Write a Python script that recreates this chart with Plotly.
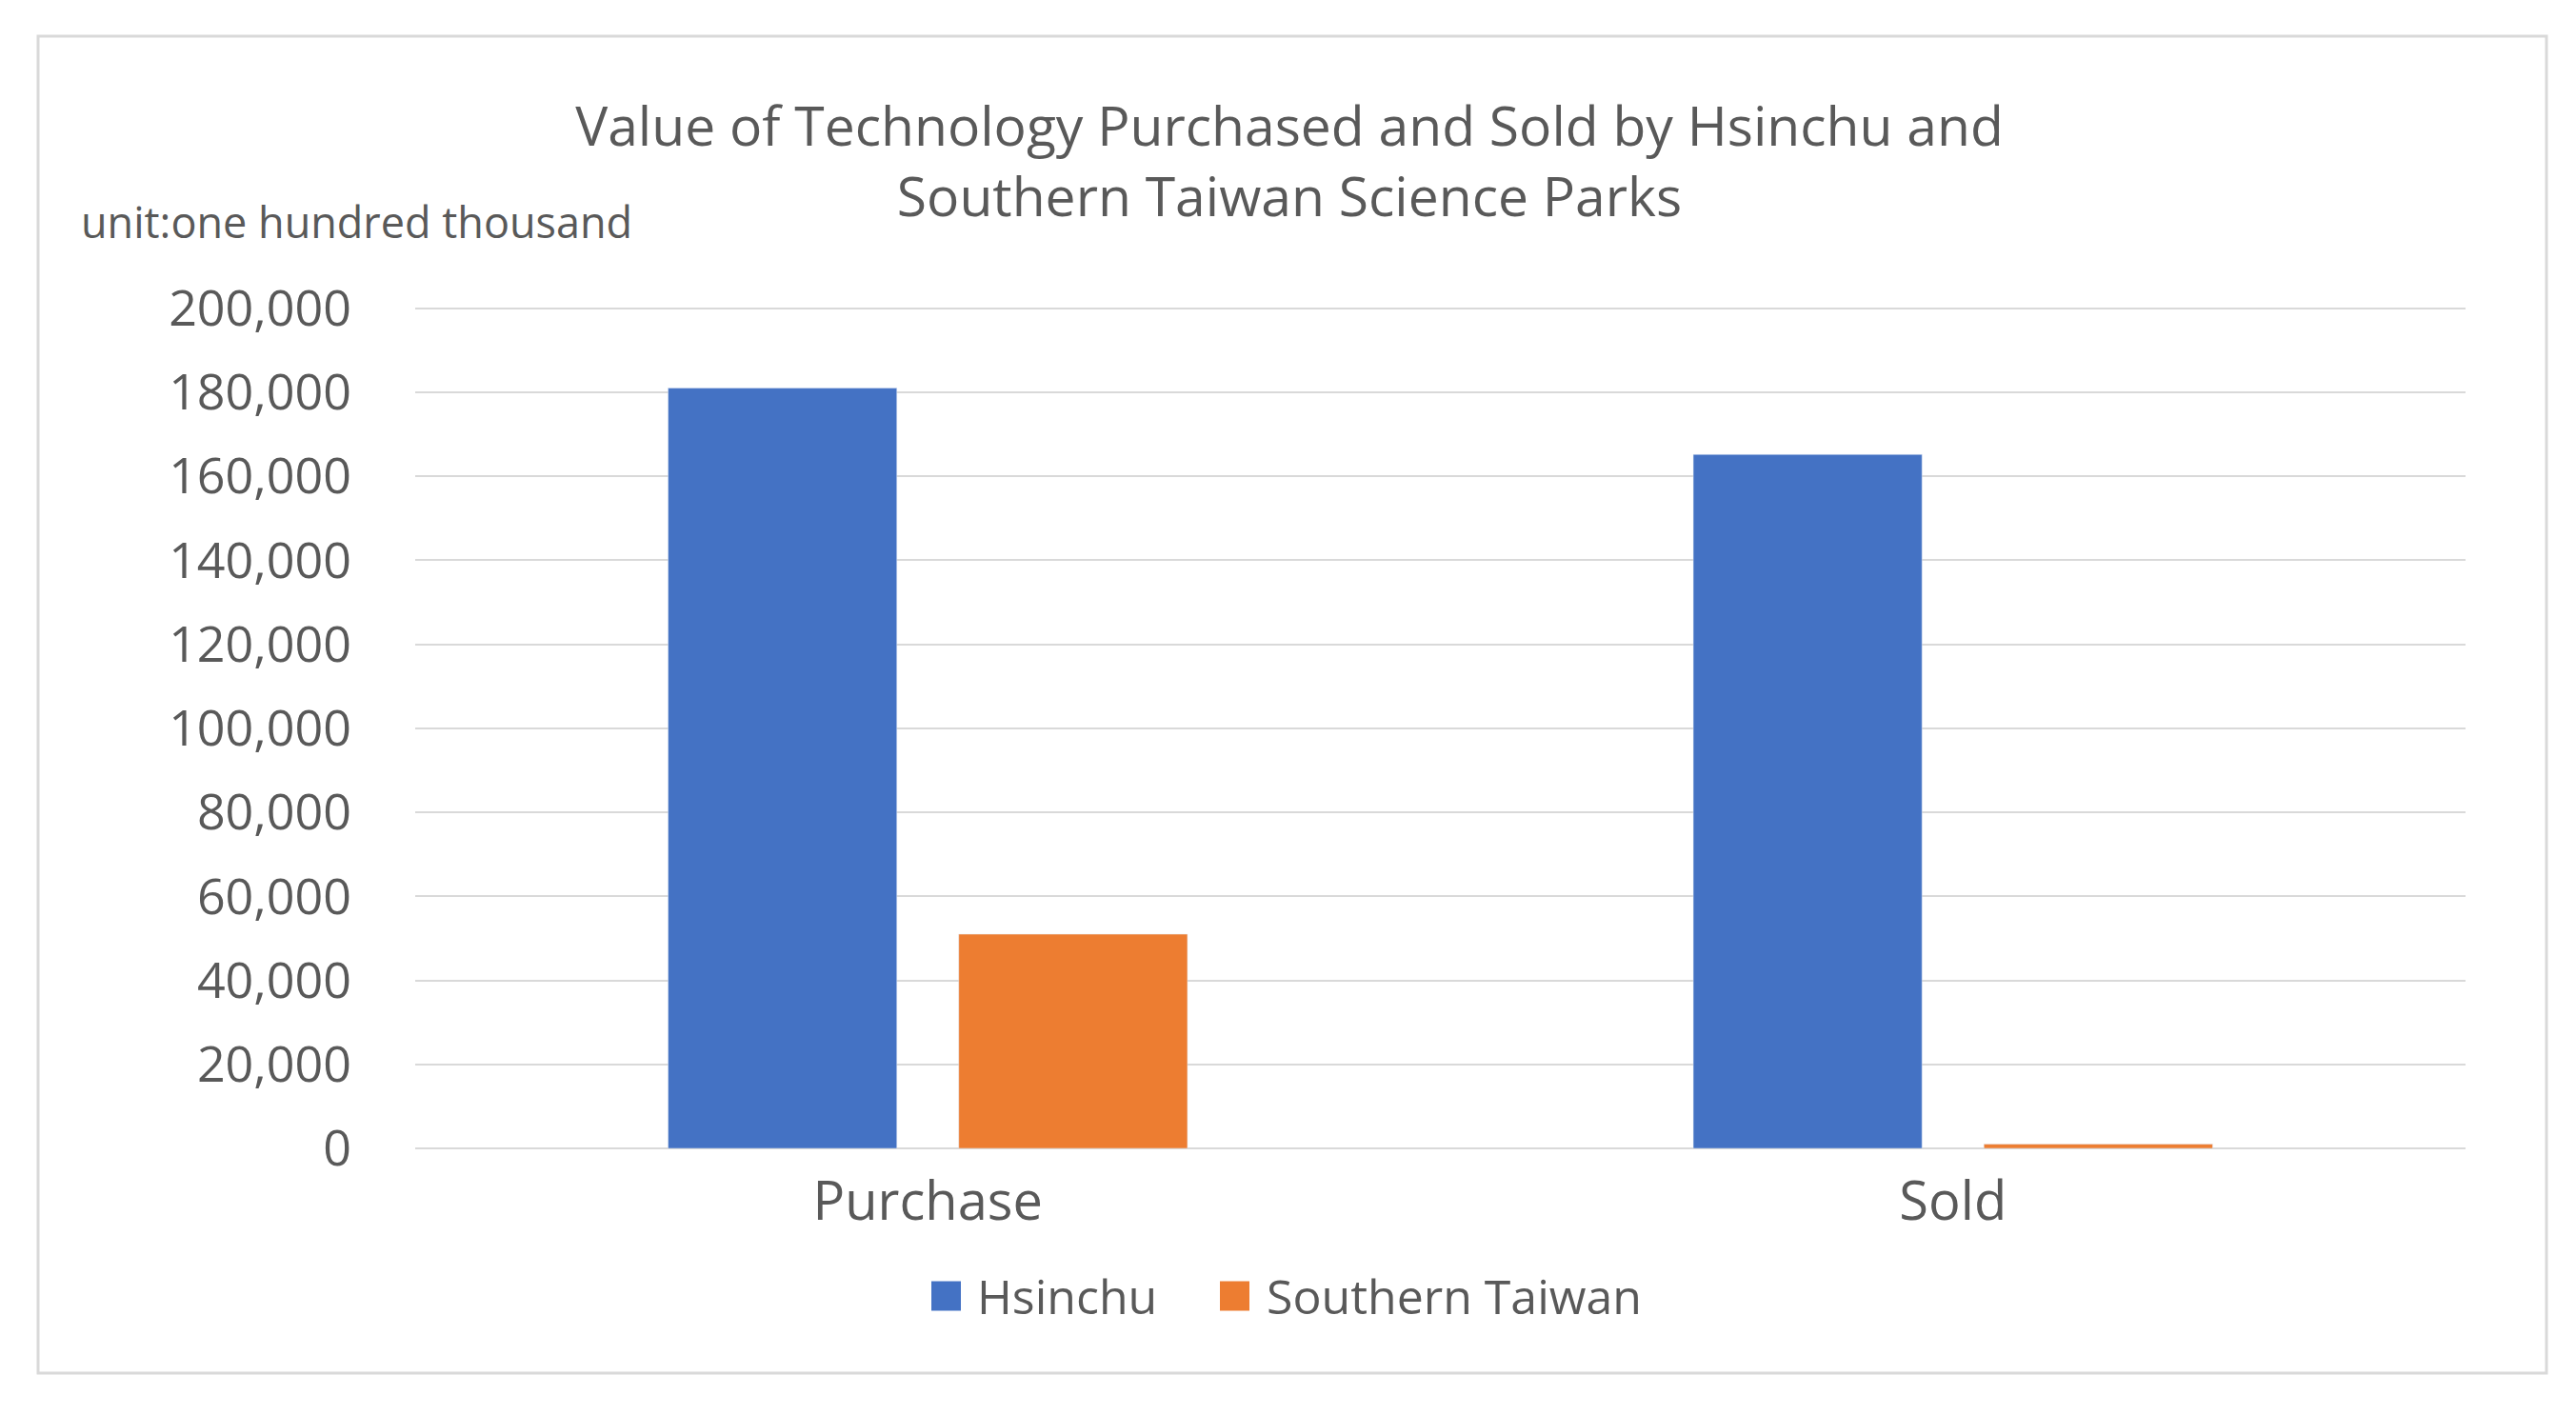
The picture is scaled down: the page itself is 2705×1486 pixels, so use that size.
import plotly.graph_objects as go

# Values (unit: one hundred thousand)
categories = ["Purchase", "Sold"]
series_names = ["Hsinchu", "Southern Taiwan"]
hsinchu = [181000, 165200]
southern_taiwan = [51000, 1000]
y_ticks = list(range(0, 200001, 20000))
colors = ["#4472C4", "#ED7D31"]

# the page body adds an 8px margin, so work in page pixels minus that
OFF = 8
W, H = 2705 - 2 * OFF, 1486 - 2 * OFF
# plot area in page pixels (top pulled up a touch so the 200,000 gridline shows)
L, R, T, B = 436 - OFF, 2589 - OFF, 322 - OFF, 1206 - OFF
pw, ph = R - L, B - T
Y_MAX = 200400

TEXT = "#595959"
FONT = "Open Sans"

def px_x(x):
    return (x - OFF - L) / pw

def px_y(y):
    return (B - (y - OFF)) / ph

fig = go.Figure()
fig.add_trace(go.Bar(x=categories, y=hsinchu, name=series_names[0], marker_color=colors[0]))
fig.add_trace(go.Bar(x=categories, y=southern_taiwan, name=series_names[1], marker_color=colors[1]))

fig.update_layout(
    width=W,
    height=H,
    margin=dict(l=L, r=W - R, t=T, b=H - B),
    paper_bgcolor="white",
    plot_bgcolor="white",
    font=dict(family=FONT, color=TEXT),
    barmode="group",
    bargap=0.433,
    bargroupgap=0.213,
    title=dict(
        text="Value of Technology Purchased and Sold by Hsinchu and<br>Southern Taiwan Science Parks",
        x=(1354 - OFF) / W,
        xanchor="center",
        y=1 - (153 - OFF) / H,
        yanchor="middle",
        font=dict(size=57, color=TEXT, family=FONT),
    ),
    showlegend=False,
)

fig.update_yaxes(
    range=[0, Y_MAX],
    tickvals=y_ticks,
    tickformat=",",
    showgrid=True,
    gridcolor="#d9d9d9",
    gridwidth=2,
    zeroline=True,
    zerolinecolor="#d9d9d9",
    zerolinewidth=2,
    tickfont=dict(size=52, color=TEXT),
    ticklabelstandoff=66,
)
fig.update_xaxes(
    showline=False,
    tickfont=dict(size=56, color=TEXT),
    ticklabelstandoff=18,
)

# unit note
fig.add_annotation(
    text="unit:one hundred thousand",
    xref="paper", yref="paper",
    x=px_x(83), y=px_y(233),
    xanchor="left", yanchor="middle",
    showarrow=False,
    font=dict(size=45, color=TEXT),
)

# legend drawn by hand so the swatches can be as big as in the reference
legend_y = 1361
sw = 31
legend_items = [(978, 1024), (1281, 1328)]
for (sx, tx), name, col in zip(legend_items, series_names, colors):
    fig.add_shape(
        type="rect", xref="paper", yref="paper",
        x0=px_x(sx), x1=px_x(sx + sw),
        y0=px_y(legend_y + sw / 2), y1=px_y(legend_y - sw / 2),
        fillcolor=col, line=dict(width=0),
    )
    fig.add_annotation(
        text=name, xref="paper", yref="paper",
        x=px_x(tx), y=px_y(legend_y),
        xanchor="left", yanchor="middle",
        showarrow=False,
        font=dict(size=50, color=TEXT),
    )

# chart border
fig.add_shape(
    type="rect",
    xref="paper", yref="paper",
    x0=px_x(40), x1=px_x(2674),
    y0=px_y(1442), y1=px_y(38),
    line=dict(color="#d9d9d9", width=3),
    layer="below",
)

fig.write_html("out.html")
